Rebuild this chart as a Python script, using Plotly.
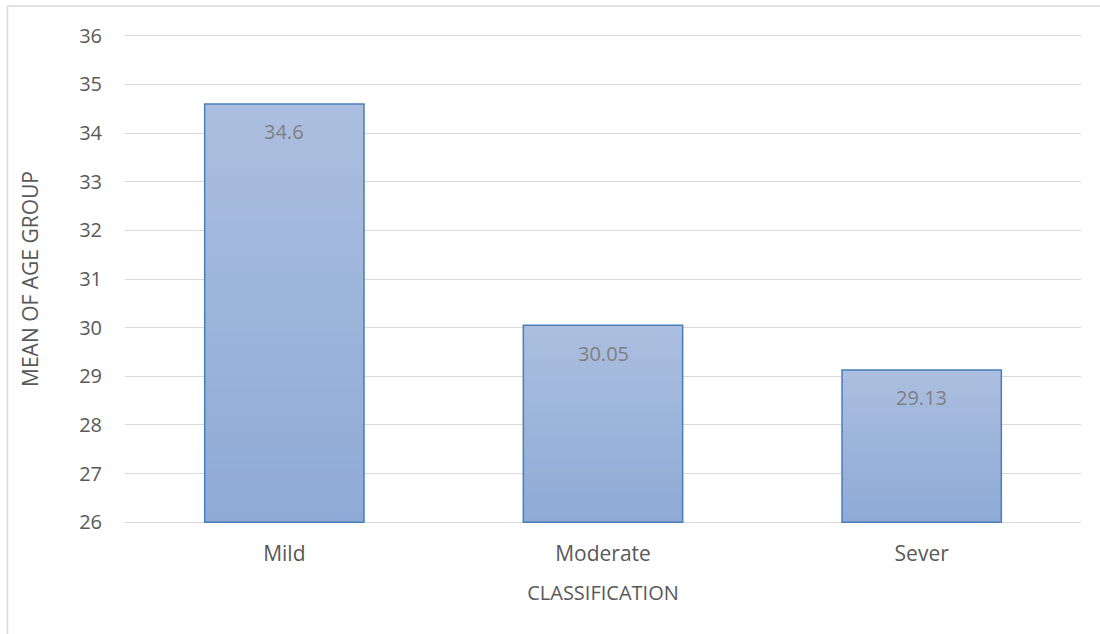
import numpy as np
import plotly.graph_objects as go

# Mean age per severity classification
categories = ["Mild", "Moderate", "Sever"]
mean_age = [34.6, 30.05, 29.13]
y_tick_values = [26, 27, 28, 29, 30, 31, 32, 33, 34, 35, 36]

AXIS_MIN = 26
FONT = "'Open Sans', sans-serif"
TEXT_GREY = "#595959"
LABEL_GREY = "#7f7f7f"
TOP_RGB = np.array([171, 190, 223])
BOTTOM_RGB = np.array([142, 170, 214])
N_STEPS = 40

fig = go.Figure()

# Vertical gradient fill: overlaid bars, each shorter and darker than the last
for k in range(N_STEPS):
    frac = k / N_STEPS
    rgb = TOP_RGB + (BOTTOM_RGB - TOP_RGB) * frac
    color = "rgb(%d,%d,%d)" % tuple(np.round(rgb).astype(int))
    heights = [(v - AXIS_MIN) * (1 - frac) for v in mean_age]
    fig.add_trace(go.Bar(
        x=categories, y=heights, base=AXIS_MIN,
        marker=dict(color=color, line=dict(width=0)),
        hoverinfo="skip", showlegend=False,
    ))

# Bar outline
fig.add_trace(go.Bar(
    x=categories, y=[v - AXIS_MIN for v in mean_age], base=AXIS_MIN,
    marker=dict(color="rgba(0,0,0,0)", line=dict(color="#4a7ebb", width=1.5)),
    showlegend=False,
))

# Value labels just inside the top of each bar
for c, v in zip(categories, mean_age):
    fig.add_annotation(
        x=c, y=v, text=f"{v:g}", showarrow=False,
        yanchor="middle", yshift=-28,
        font=dict(family=FONT, size=20, color=LABEL_GREY),
    )

# Chart border
fig.add_shape(
    type="rect", xref="paper", yref="paper",
    x0=-0.1229, x1=1.2, y0=-0.5, y1=1.0506,
    line=dict(color="#d9d9d9", width=1.5), fillcolor="rgba(0,0,0,0)",
    layer="below",
)

fig.update_layout(
    barmode="overlay",
    bargap=0.5,
    width=1100, height=634,
    margin=dict(l=125, r=19, t=31, b=107),
    paper_bgcolor="white", plot_bgcolor="white",
    font=dict(family=FONT, size=20, color=TEXT_GREY),
    xaxis=dict(
        showgrid=False, zeroline=False, showline=False,
        ticks="", ticklabelstandoff=12,
        tickfont=dict(size=21, color=TEXT_GREY),
        title=dict(text="CLASSIFICATION", standoff=19,
                   font=dict(size=20, color=TEXT_GREY)),
    ),
    yaxis=dict(
        range=[25.9, 36.1], tickvals=y_tick_values,
        showgrid=True, gridcolor="#d9d9d9", gridwidth=1,
        zeroline=False, showline=False, ticks="",
        ticklabelstandoff=22,
        tickfont=dict(size=20, color=TEXT_GREY),
        title=dict(text="MEAN OF AGE GROUP", standoff=34,
                   font=dict(size=21, color=TEXT_GREY)),
    ),
)

fig.write_html("out.html")
